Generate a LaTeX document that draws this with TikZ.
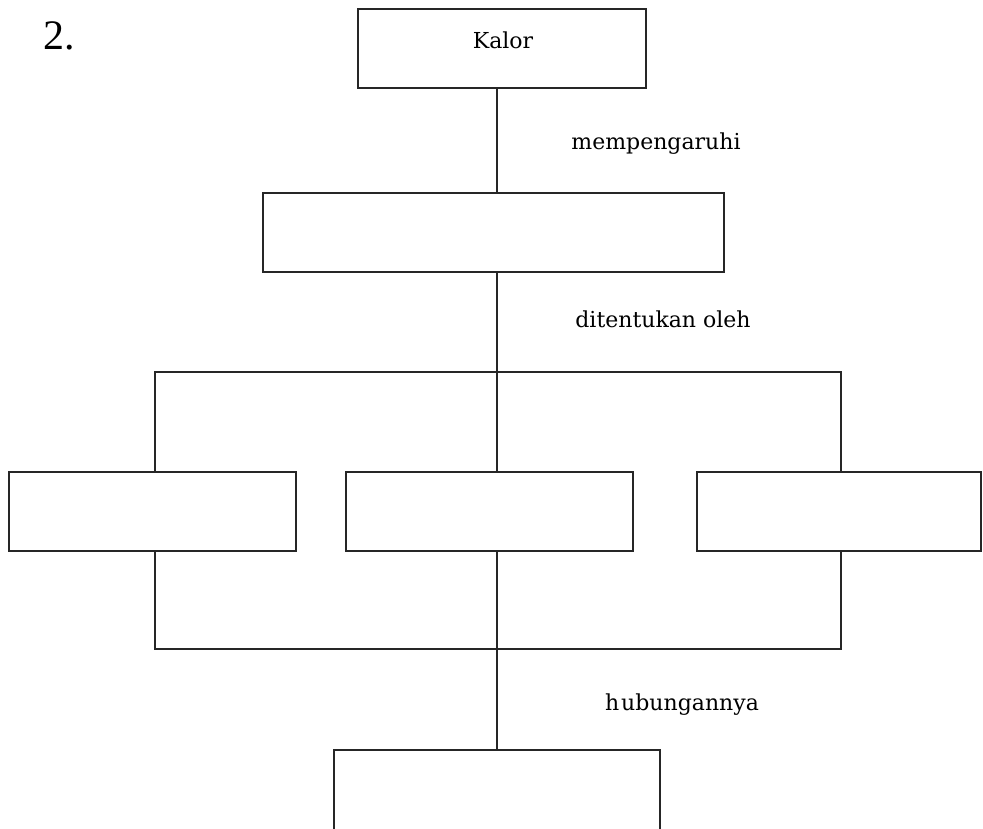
\documentclass[tikz,border=0pt]{standalone}
\usepackage{fontspec}
\setmainfont{DejaVu Serif}
\newfontfamily\numfont{Liberation Serif}
\begin{document}
\begin{tikzpicture}[x=1pt,y=-1pt,
  box/.style={draw=black!85,line width=2.2pt,rectangle,inner sep=0pt,fill=white},
  conn/.style={draw=black!85,line width=2.2pt},
  lbl/.style={inner sep=0pt,anchor=base,font=\fontsize{22}{26}\selectfont}]
\useasboundingbox (0,0) rectangle (983,828);
\fill[white] (0,0) rectangle (983,828);
\clip (0,0) rectangle (983,828);
% boxes
\node[box,minimum width=288pt,minimum height=79pt] (kalor) at (502,48.5) {};
\node[box,minimum width=461pt,minimum height=79pt] (mid) at (493.5,232.5) {};
\node[box,minimum width=287pt,minimum height=79pt] (b1) at (152.5,511.5) {};
\node[box,minimum width=287pt,minimum height=79pt] (b2) at (489.5,511.5) {};
\node[box,minimum width=284pt,minimum height=79pt] (b3) at (839,511.5) {};
\node[box,minimum width=326pt,minimum height=100pt] (bot) at (497,800) {};
% junction coordinates
\coordinate (t1) at (497,372);
\coordinate (hl) at (155,372);
\coordinate (hr) at (841,372);
\coordinate (bl) at (155,649);
\coordinate (br) at (841,649);
\coordinate (t2) at (497,649);
% connectors
\draw[conn] (t1 |- kalor.south) -- (t1 |- mid.north);
\draw[conn] (t1 |- mid.south) -- (t1);
\draw[conn] (hl |- b1.north) -- (hl) -- (hr) -- (hr |- b3.north);
\draw[conn] (t1) -- (t1 |- b2.north);
\draw[conn] (bl |- b1.south) -- (bl) -- (br) -- (br |- b3.south);
\draw[conn] (t2 |- b2.south) -- (t2) -- (t2 |- bot.north);
% texts
\node[lbl] (kalortxt) at (503,48) {Kalor};
\node[lbl] (l1) at (656,149) {mempengaruhi};
\node[lbl] (l2) at (663,327) {ditentukan oleh};
\node[lbl] (l3) at (682,710) {h\kern2pt ubungannya};
\node[inner sep=0pt,anchor=base,font=\numfont\fontsize{42}{48}\selectfont] (num) at (59,49) {2.};
\end{tikzpicture}
\end{document}
